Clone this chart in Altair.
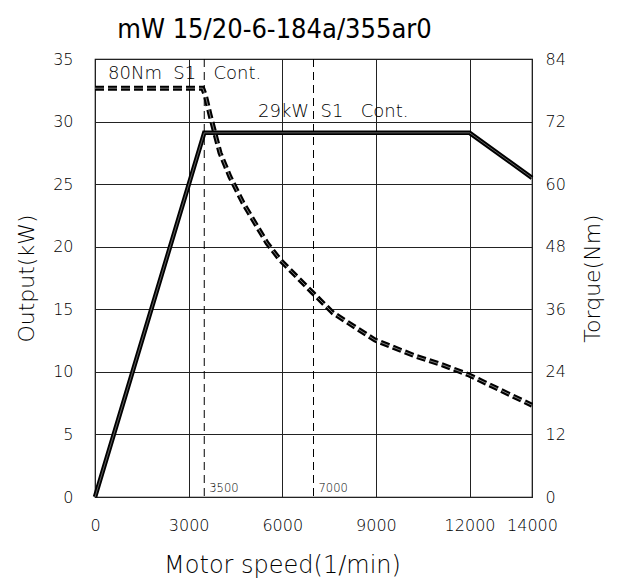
import altair as alt
import pandas as pd

# ---- data ----
power_rpm = [0, 3500, 12000, 14000]
power_kw = [0, 29.1, 29.1, 25.5]

torque_rpm = [0, 3450, 3540, 3685, 4005, 4325, 4742, 5511, 5928, 6985, 7626,
              8971, 10317, 11150, 11983, 14000]
torque_nm = [78.4, 78.4, 76.9, 73.3, 66.0, 61.4, 56.4, 48.7, 45.5, 39.1, 35.3,
             30.1, 26.9, 25.3, 23.4, 17.6]

marker_rpm = [3500, 7000]
marker_labels = ["3500", "7000"]

ann_text = ["80Nm\u00a0\u00a0S1\u00a0\u00a0\u00a0Cont.", "29kW\u00a0\u00a0S1\u00a0\u00a0\u00a0Cont."]
ann_rpm = [417, 5223]
ann_kw = [33.4, 30.37]

x_ticks = [0, 3000, 6000, 9000, 12000, 14000]
left_ticks = [0, 5, 10, 15, 20, 25, 30, 35]
right_ticks = [0, 12, 24, 36, 48, 60, 72, 84]

chart_title = "mW 15/20-6-184a/355ar0"

power_df = pd.DataFrame({"rpm": power_rpm, "kw": power_kw})
torque_df = pd.DataFrame({"rpm": torque_rpm, "nm": torque_nm})
marker_df = pd.DataFrame({"rpm": marker_rpm, "label": marker_labels, "kw": [0, 0]})
ann_df = pd.DataFrame({"rpm": ann_rpm, "kw": ann_kw, "text": ann_text})

FONT = "DejaVu Sans"
TITLE_FONT = "DejaVu Sans Condensed"
W = 200
XSCALE = alt.Scale(domain=[0, 14000], nice=False, zero=False)

x_enc = alt.X("rpm:Q", scale=XSCALE,
              axis=alt.Axis(values=x_ticks, format="d", grid=True, labelFlush=False,
                            labelOverlap=False, labelPadding=20,
                            title="Motor speed(1/min)", titleFontSize=24,
                            titleX=187, titleY=68,
                            titleBaseline="middle", titleAlign="center"))

x_top = alt.X("rpm:Q", scale=XSCALE,
              axis=alt.Axis(orient="top", values=x_ticks, grid=False, labels=False,
                            title=chart_title, titleFont=TITLE_FONT,
                            titleFontSize=27, titleFontWeight="normal",
                            titleX=179, titleY=-22, titleBaseline="alphabetic",
                            titleAlign="center"))

y_left = alt.Y("kw:Q",
               scale=alt.Scale(domain=[0, 35], nice=False),
               axis=alt.Axis(values=left_ticks, format="d", grid=True, labelPadding=22,
                             labelFlush=False, title="Output(kW)",
                             titleAngle=270, titleX=-69, titleY=219,
                             titleBaseline="middle", titleAlign="center"))

y_right = alt.Y("nm:Q",
                scale=alt.Scale(domain=[0, 84], nice=False),
                axis=alt.Axis(orient="right", values=right_ticks, format="d", grid=False,
                              labelPadding=13, labelFlush=False,
                              title="Torque(Nm)", titleAngle=270, titleX=60,
                              titleY=219, titleBaseline="middle",
                              titleAlign="center"))

rules = alt.Chart(marker_df).mark_rule(color="black", strokeWidth=1,
                                       strokeDash=[8, 5]).encode(x="rpm:Q")

marker_text = alt.Chart(marker_df).mark_text(
    align="left", baseline="alphabetic", dx=5, dy=-5, fontSize=11.5,
    font=FONT, fontWeight=W, color="black").encode(x="rpm:Q", y="kw:Q", text="label:N")

power_line = alt.Chart(power_df).mark_line(color="black", strokeWidth=4.5).encode(
    x=x_enc, y=y_left)
power_inner = alt.Chart(power_df).mark_line(color="#777777", strokeWidth=0.8).encode(
    x="rpm:Q", y="kw:Q")

ann = alt.Chart(ann_df).mark_text(
    align="left", baseline="alphabetic", fontSize=18, font=FONT, fontWeight=W,
    color="black").encode(x="rpm:Q", y="kw:Q", text="text:N")

left = alt.layer(power_line, power_inner, rules, marker_text, ann)

torque_line = alt.Chart(torque_df).mark_line(
    color="black", strokeWidth=5, strokeDash=[9, 4]).encode(x=x_top, y=y_right)
torque_inner = alt.Chart(torque_df).mark_line(
    color="#999999", strokeWidth=0.8, strokeDash=[9, 4]).encode(x="rpm:Q", y="nm:Q")

right = alt.layer(torque_line, torque_inner)

chart = alt.layer(left, right).resolve_scale(y="independent").resolve_axis(
    x="independent").properties(
    width=437, height=438,
    autosize=alt.AutoSizeParams(type="none"),
    padding={"left": 87, "top": 51, "right": 80, "bottom": 86},
).configure_view(
    stroke="black", strokeWidth=1.2
).configure_axis(
    domain=False, ticks=False, labelFont=FONT, labelFontSize=16,
    labelFontWeight=W, labelColor="black", titleFont=FONT, titleFontSize=22,
    titleFontWeight=W, titleColor="black",
    gridColor="#222222", gridWidth=1, gridOpacity=1
)

chart.save("out.html", embed_options={"renderer": "svg", "actions": False})
